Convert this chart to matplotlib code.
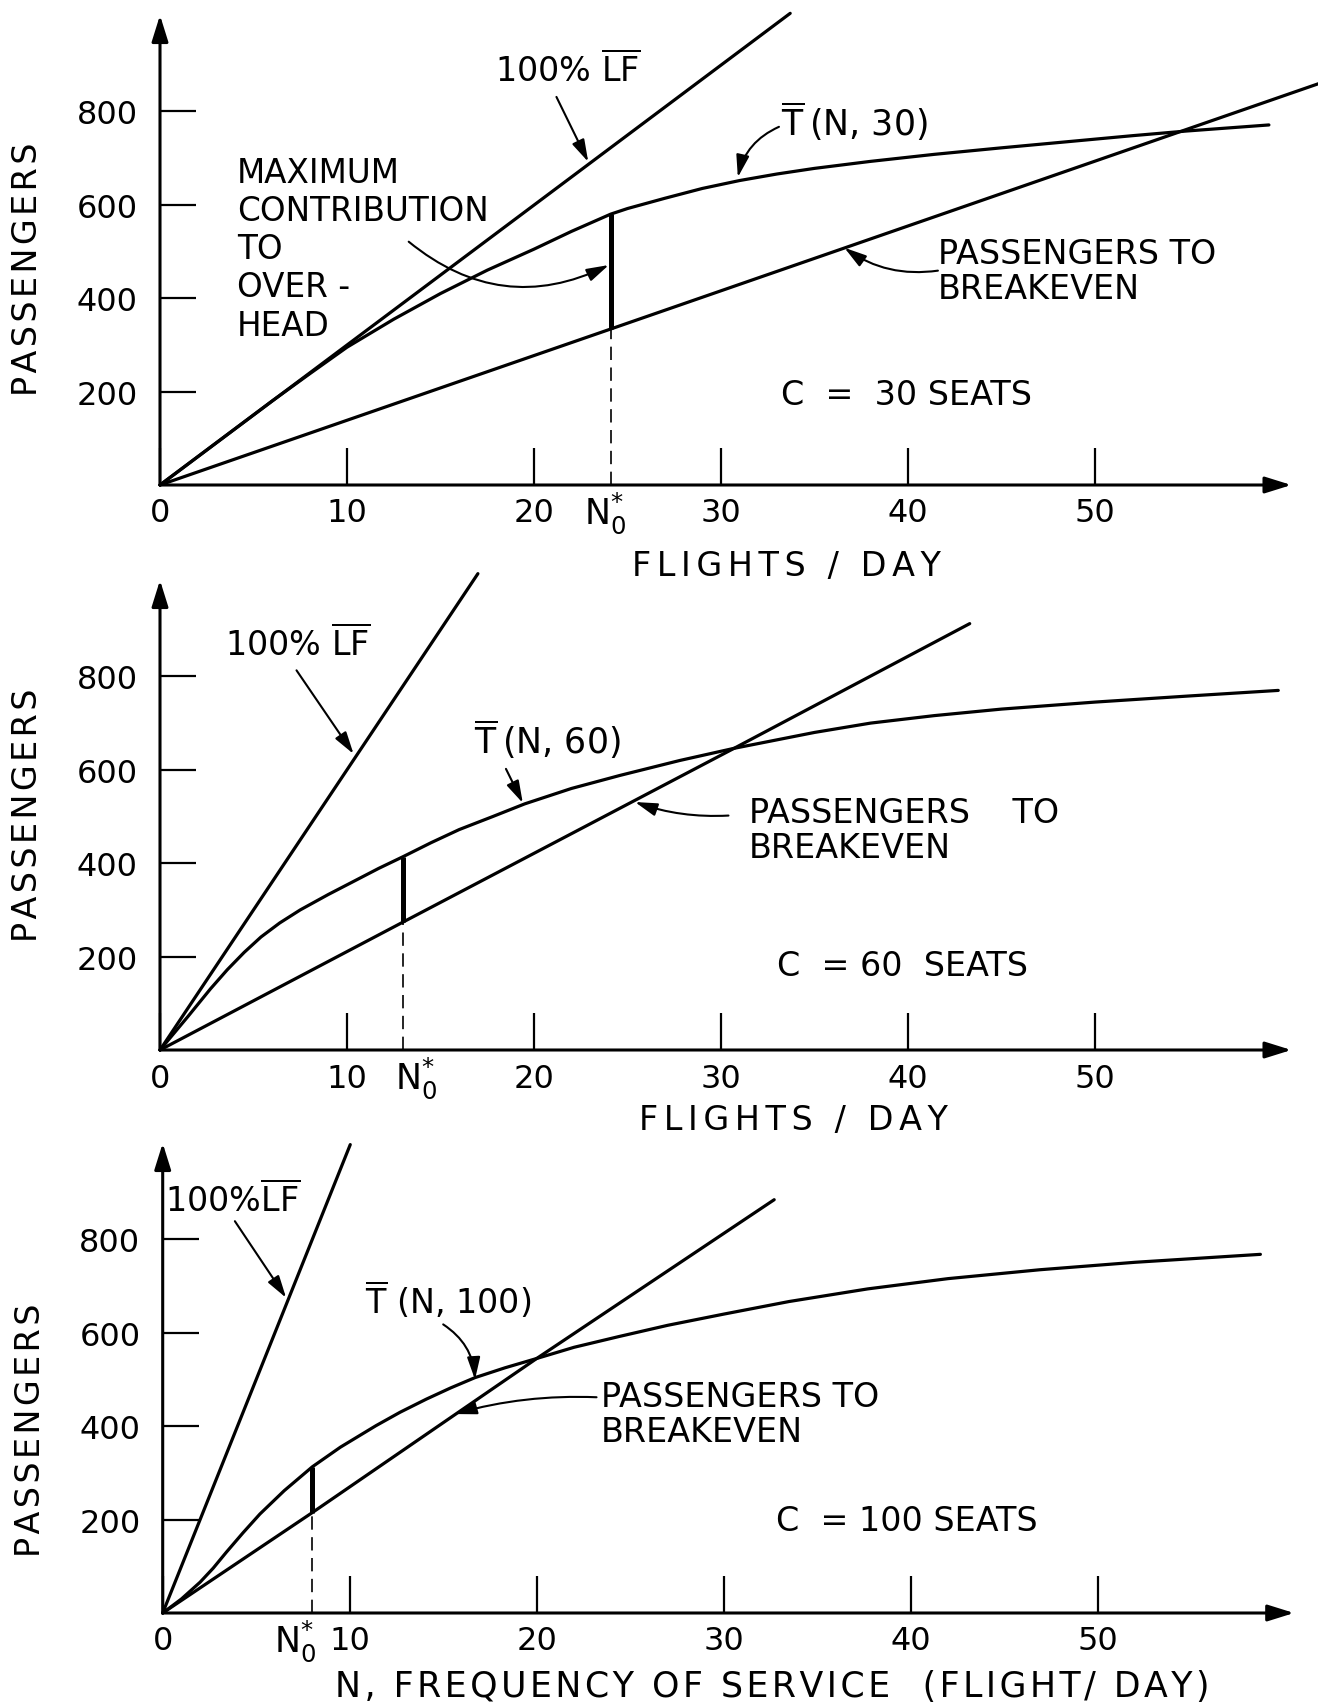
import numpy as np
import matplotlib
matplotlib.use("Agg")
import matplotlib.pyplot as plt

plt.rcParams['font.family'] = ['DejaVu Sans']
plt.rcParams['mathtext.fontset'] = 'dejavusans'

# ---- C = 30 seats ----
n_t30 = [0, 3, 6, 8, 10, 12.5, 15, 17.5, 20, 22, 24.1, 25, 27, 29, 31, 33, 35, 38,
         41.4, 45, 48.5, 52, 54.9, 59.3]
t30 = [0, 90, 180, 238, 295, 355, 410, 460, 505, 543, 580, 592, 614, 635, 652, 666, 678, 693,
       708, 722, 735, 748, 758, 771]
n_be30 = [0, 24.1, 62.0]
be30 = [0, 334, 860]
n_lf30 = [0, 33.7]
lf30 = [0, 1010]
n0_30 = 24.1

# ---- C = 60 seats ----
n_t60 = [0, 1.5, 2.7, 3.6, 4.5, 5.4, 6.4, 7.5, 9, 10.4, 11.7, 13.0, 14.5, 16, 17.8, 19.5,
         22, 24.6, 27.8, 30.7, 35, 38, 41.4, 45, 50, 55, 59.8]
t60 = [0, 72, 131, 172, 209, 242, 272, 300, 333, 362, 389, 414, 444, 472, 500, 527,
       560, 588, 620, 646, 680, 700, 716, 730, 745, 758, 770]
n_be60 = [0, 13.0, 30.7, 43.3]
be60 = [0, 274, 646, 913]
n_lf60 = [0, 17.0]
lf60 = [0, 1020]
n0_60 = 13.0

# ---- C = 100 seats ----
n_t100 = [0, 1, 2, 2.7, 3.4, 4.3, 5.2, 6.5, 8.0, 9.5, 11.4, 12.7, 14.1, 15.4, 16.7, 18.3,
          20, 22, 24.4, 27, 30, 33.5, 37.7, 42, 46.9, 52, 58.7]
t100 = [0, 30, 66, 96, 130, 172, 212, 262, 313, 355, 401, 430, 458, 482, 504, 525,
        545, 569, 592, 616, 640, 667, 694, 716, 735, 751, 768]
n_be100 = [0, 8.0, 20.0, 32.7]
be100 = [0, 215, 545, 885]
n_lf100 = [0, 10.03]
lf100 = [0, 1003]
n0_100 = 8.0

x_ticks = [0, 10, 20, 30, 40, 50]
y_ticks = [200, 400, 600, 800]

W, H = 1318, 1706
PX_N, PX_P = 18.7, 0.467      # pixels per flight, pixels per passenger
XMAX, YMAX = 62, 1040

fig = plt.figure(figsize=(W / 100, H / 100), dpi=100)
fig.patch.set_facecolor('white')

LW = 2.3
FS = 24
TBAR = r'$\overline{\mathrm{T}}$'


def spaced(s, gap='\u200a'):
    return gap.join(s)


def make_axes(x0, y0):
    """x0, y0: pixel position of the origin, from the top-left corner."""
    ax = fig.add_axes([x0 / W, (H - y0) / H, XMAX * PX_N / W, YMAX * PX_P / H])
    ax.set_xlim(0, XMAX)
    ax.set_ylim(0, YMAX)
    ax.patch.set_visible(False)
    for s in ax.spines.values():
        s.set_visible(False)
    ax.set_xticks(x_ticks)
    ax.set_xticklabels([str(v) for v in x_ticks])
    ax.set_yticks(y_ticks)
    ax.set_yticklabels([str(v) for v in y_ticks])
    ax.tick_params(axis='x', direction='in', length=27, width=1.6, pad=9, labelsize=23)
    ax.tick_params(axis='y', direction='in', length=26, width=1.6, pad=16, labelsize=23)
    axis_arrow = dict(arrowstyle='-|>,head_length=0.8,head_width=0.25', lw=2.2,
                      color='black', mutation_scale=20, shrinkA=0, shrinkB=0)
    ax.annotate('', xy=(60.5, 0), xytext=(0, 0), arrowprops=axis_arrow, annotation_clip=False)
    ax.annotate('', xy=(0, 1006), xytext=(0, 0), arrowprops=axis_arrow, annotation_clip=False)
    return ax


def pointer(ax, tail, head, rad=0.0):
    ax.annotate('', xy=head, xytext=tail, annotation_clip=False,
                arrowprops=dict(arrowstyle='-|>,head_length=0.75,head_width=0.22',
                                lw=1.5, color='black', mutation_scale=18,
                                shrinkA=0, shrinkB=0,
                                connectionstyle=f'arc3,rad={rad}'))


def draw_panel(ax, n_t, t, n_be, be, n_lf, lf, n0, n0_dx, xlabel, xlabel_fs, lab_xy, ylab_y):
    ax.plot(n_lf, lf, color='black', lw=LW, clip_on=False, solid_capstyle='round')
    ax.plot(n_t, t, color='black', lw=LW, clip_on=False, solid_capstyle='round',
            solid_joinstyle='round')
    ax.plot(n_be, be, color='black', lw=LW, clip_on=False, solid_capstyle='round')

    t_n0 = np.interp(n0, n_t, t)
    be_n0 = np.interp(n0, n_be, be)
    ax.plot([n0, n0], [be_n0, t_n0], color='black', lw=3.6, solid_capstyle='butt')
    ax.plot([n0, n0], [0, be_n0], color='black', lw=1.2, linestyle=(0, (8, 4.5)))
    ax.text(n0 + n0_dx, -58, r'$\mathrm{N}_{0}^{*}$', fontsize=25, ha='center', va='center')

    ax.set_ylabel(spaced('PASSENGERS'), fontsize=24)
    ax.yaxis.label.set_va('center')
    ax.yaxis.set_label_coords(-0.114, ylab_y)
    ax.set_xlabel(xlabel, fontsize=xlabel_fs)
    ax.xaxis.label.set_va('center')
    ax.xaxis.set_label_coords(*lab_xy)


# ---------------- panel 1 : C = 30 ----------------
ax1 = make_axes(160, 486)
draw_panel(ax1, n_t30, t30, n_be30, be30, n_lf30, lf30, n0_30, -0.3,
           spaced('FLIGHTS / DAY', '\u2006'), 24, (0.540, -0.165), 0.447)
ax1.text(17.9, 889, r'100% $\overline{\mathrm{LF}}$', fontsize=FS, ha='left', va='center')
pointer(ax1, (21.2, 831), (22.9, 692))
ax1.text(33.2, 781, TBAR + '\u2009(N, 30)', fontsize=25, ha='left', va='center')
pointer(ax1, (33.1, 767), (30.9, 659), rad=0.25)
ax1.text(41.6, 458, 'PASSENGERS TO\nBREAKEVEN', fontsize=FS, ha='left', va='center',
         linespacing=1.05)
pointer(ax1, (41.6, 459), (36.6, 508), rad=-0.2)
ax1.text(33.2, 193, 'C  =  30 SEATS', fontsize=FS, ha='left', va='center')
ax1.text(4.1, 506, 'MAXIMUM\nCONTRIBUTION\nTO\nOVER -\nHEAD', fontsize=23.5,
         ha='left', va='center', linespacing=1.2)
pointer(ax1, (13.3, 521), (24.0, 471), rad=0.32)

# ---------------- panel 2 : C = 60 ----------------
ax2 = make_axes(160, 1051)
draw_panel(ax2, n_t60, t60, n_be60, be60, n_lf60, lf60, n0_60, 0.7,
           spaced('FLIGHTS / DAY', '\u2006'), 24, (0.546, -0.144), 0.485)
ax2.text(3.5, 870, r'100% $\overline{\mathrm{LF}}$', fontsize=FS, ha='left', va='center')
pointer(ax2, (7.3, 813), (10.35, 634))
ax2.text(16.8, 667, TBAR + '\u2009(N, 60)', fontsize=25, ha='left', va='center')
pointer(ax2, (18.5, 602), (19.4, 529))
ax2.text(31.5, 471, 'PASSENGERS    TO\nBREAKEVEN', fontsize=FS, ha='left', va='center',
         linespacing=1.05)
pointer(ax2, (30.4, 502), (25.4, 531), rad=-0.1)
ax2.text(33.0, 180, 'C  = 60  SEATS', fontsize=FS, ha='left', va='center')

# ---------------- panel 3 : C = 100 ----------------
ax3 = make_axes(162.7, 1614)
draw_panel(ax3, n_t100, t100, n_be100, be100, n_lf100, lf100, n0_100, -0.9,
           spaced('N, FREQUENCY OF SERVICE  (FLIGHT/ DAY)'), 25, (0.526, -0.150), 0.379)
ax3.text(0.1, 886, r'100%$\overline{\mathrm{LF}}$', fontsize=FS, ha='left', va='center')
pointer(ax3, (3.86, 839), (6.6, 675))
ax3.text(10.8, 672, TBAR + ' (N, 100)', fontsize=FS, ha='left', va='center')
pointer(ax3, (15.0, 618), (16.7, 500), rad=-0.25)
ax3.text(23.45, 426, 'PASSENGERS TO\nBREAKEVEN', fontsize=FS, ha='left', va='center',
         linespacing=1.05)
pointer(ax3, (23.2, 462), (15.6, 426), rad=0.08)
ax3.text(32.8, 199, 'C  = 100 SEATS', fontsize=FS, ha='left', va='center')

fig.savefig('out.png', dpi=100, facecolor='white')
